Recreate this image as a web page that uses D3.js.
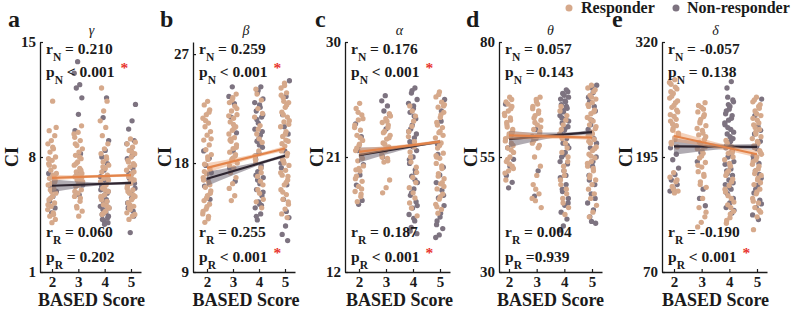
<!DOCTYPE html>
<html>
<head>
<meta charset="utf-8">
<script src="https://cdn.jsdelivr.net/npm/d3@7"></script>
<style>
  body { margin: 0; background: #fff; }
  text { font-family: "Liberation Serif", "Times New Roman", serif; }
</style>
</head>
<body>
<div id="chart"></div>
<script>
// ---- data ----
var scores = [2, 3, 4, 5]
var bandNames = ["γ", "β", "α", "θ", "δ"]
var panelLetters = ["a", "b", "c", "d", "e"]
var yDomains = [[1, 15], [9, 28], [12, 30], [30, 80], [70, 320]]
var yTicks = [[1, 8, 15], [9, 18, 27], [12, 21, 30], [30, 55, 80], [70, 195, 320]]

var rN = ["= 0.210", "= 0.259", "= 0.176", "= 0.057", "= -0.057"]
var pN = ["< 0.001", "< 0.001", "< 0.001", "= 0.143", "= 0.138"]
var rR = ["= 0.060", "= 0.255", "= 0.187", "= 0.004", "= -0.190"]
var pR = ["= 0.202", "< 0.001", "< 0.001", "=0.939", "< 0.001"]
var pNSig = [true, true, true, false, false]
var pRSig = [false, true, true, false, true]

// fitted line value at score 2 and score 5
var respFit = [[6.73, 6.9], [17.6, 19.2], [21.4, 22.2], [59.7, 59.2], [217.8, 198]]
var nonFit = [[6.25, 6.43], [16.7, 18.6], [21.15, 22.2], [58.9, 60.4], [206.5, 206]]
// confidence half-width at scores 2,3,4,5
var respCI = [[0.18, 0.1, 0.07, 0.1], [0.4, 0.25, 0.15, 0.2], [0.3, 0.18, 0.12, 0.15], [0.9, 0.6, 0.4, 0.5], [6, 4, 3, 3.5]]
var nonCI = [[0.4, 0.2, 0.08, 0.1], [0.6, 0.35, 0.15, 0.15], [0.6, 0.3, 0.12, 0.15], [1.8, 0.9, 0.4, 0.5], [9, 5, 2.5, 3]]

// CI values per BASED score (2,3,4,5), responders / non-responders
var gammaResp = [
  [11.4, 9.6, 9.3, 9.0, 8.8, 8.5, 8.3, 8.0, 7.8, 7.6, 7.4, 7.2, 7.0, 6.9, 6.7, 6.6, 6.4, 6.3, 6.1, 6.0, 5.8, 5.6, 5.4, 5.2, 5.0, 4.8, 4.6, 4.4, 4.2, 4.0, 7.9, 6.8, 5.5, 9.8, 8.6, 7.5, 6.5, 5.9, 5.1, 4.5],
  [9.9, 9.5, 9.2, 9.0, 8.7, 8.5, 8.3, 8.1, 7.9, 7.7, 7.5, 7.3, 7.1, 7.0, 6.9, 6.8, 6.7, 6.6, 6.5, 6.4, 6.2, 6.0, 5.8, 5.6, 5.3, 5.0, 4.7, 4.4, 8.8, 7.2, 6.6, 9.4, 8.0, 7.6, 6.75, 6.3, 5.9, 5.5, 4.9],
  [12.2, 11.4, 10.8, 10.2, 9.8, 9.3, 8.8, 8.5, 8.2, 7.9, 7.7, 7.5, 7.3, 7.1, 6.9, 6.7, 6.5, 6.3, 6.1, 5.9, 5.7, 5.5, 5.3, 5.1, 4.9, 4.7, 4.5, 6.8, 6.2, 5.6, 8.0, 7.4, 6.6, 6.0, 5.4, 5.0, 4.6],
  [9.1, 8.8, 8.6, 8.4, 8.2, 8.0, 7.8, 7.6, 7.4, 7.2, 7.0, 6.8, 6.6, 6.4, 6.2, 6.0, 5.8, 5.6, 5.4, 5.2, 5.0, 4.8, 4.6, 4.4, 4.2, 7.5, 6.9, 6.3, 5.7, 5.1, 8.9, 8.3, 7.7, 7.1, 6.5, 6.1, 5.5, 4.9, 4.5, 6.7, 5.9]
]
var gammaNon = [
  [7.0, 6.5, 6.2, 5.9, 5.6, 5.3, 4.9, 4.6],
  [13.8, 13.1, 12.4, 12.2, 11.6, 10.6, 9.6, 8.2, 7.0, 6.3, 5.7],
  [11.6, 10.4, 9.0, 8.4, 8.0, 7.6, 7.2, 6.8, 6.4, 6.1, 5.9, 5.7, 5.5, 5.3, 5.1, 4.9, 4.7, 4.5, 4.3, 4.1, 6.0, 5.4, 4.8, 4.4, 6.6, 6.2, 5.8, 5.2, 5.0, 4.6, 4.2, 4.0, 3.9],
  [11.2, 10.2, 9.7, 9.0, 8.4, 7.9, 7.3, 6.7, 6.1, 5.5, 4.9, 4.4, 3.4, 8.8, 8.1, 7.0, 6.4, 5.8, 5.2, 4.7]
]
var betaResp = [
  [23.1, 22.8, 22.4, 22.0, 21.7, 21.3, 21.0, 20.6, 20.3, 19.9, 19.5, 19.1, 18.7, 18.3, 17.9, 17.5, 17.1, 16.8, 16.4, 16.0, 15.7, 15.3, 14.9, 14.6, 14.2, 13.8, 13.4, 13.1, 15.5, 14.4, 16.6, 22.2, 21.5, 20.0, 18.5, 17.3, 16.2, 15.1, 14.0, 13.6],
  [23.7, 23.4, 23.0, 22.7, 22.3, 22.0, 21.7, 21.4, 21.0, 20.7, 20.4, 20.1, 19.8, 19.5, 19.2, 18.9, 18.6, 18.3, 18.0, 17.6, 17.2, 16.8, 16.3, 15.9, 15.3, 14.9, 22.5, 21.2, 19.9, 18.7, 23.2, 21.9, 20.9, 20.0, 19.3, 18.4, 17.8],
  [24.1, 23.2, 22.5, 21.8, 21.1, 20.4, 19.7, 19.0, 18.3, 17.6, 16.9, 16.2, 15.5, 14.8, 14.3, 20.8, 18.6, 16.5, 23.7, 22.1, 20.0, 18.0, 17.2, 15.8, 15.0],
  [24.6, 24.2, 23.8, 23.4, 23.0, 22.6, 22.2, 21.8, 21.4, 21.0, 20.6, 20.2, 19.8, 19.4, 19.0, 18.6, 18.2, 17.8, 17.4, 17.0, 16.6, 16.2, 15.8, 15.4, 15.0, 14.6, 14.2, 13.8, 13.5, 23.1, 21.5, 19.9, 18.3, 16.9, 24.4, 23.6, 22.8, 22.0, 21.2, 20.4, 19.6, 18.8, 18.0, 17.2, 16.4, 15.6, 14.8]
]
var betaNon = [
  [19.0, 18.4, 17.8, 17.2, 16.6, 16.1, 15.0],
  [24.3, 23.5, 22.9, 21.8, 20.5, 19.0, 17.6, 16.5],
  [24.3, 23.8, 23.3, 22.8, 22.3, 21.8, 21.3, 20.8, 20.3, 19.8, 19.3, 18.8, 18.3, 17.8, 17.3, 16.8, 16.3, 15.8, 15.3, 14.8, 14.3, 13.8, 13.3, 22.0, 19.5, 17.0, 14.5, 24.0, 23.0, 22.6, 21.6, 20.6, 20.0, 18.6, 17.6, 16.6, 15.6, 14.6, 13.6],
  [24.8, 23.5, 22.0, 20.4, 19.0, 17.6, 16.2, 15.0, 13.5, 12.8, 12.1, 11.6, 21.0, 18.0, 14.0]
]
var alphaResp = [
  [25.2, 24.8, 24.3, 23.9, 23.5, 23.1, 22.7, 22.3, 21.9, 21.5, 21.1, 20.7, 20.3, 19.9, 19.5, 19.1, 18.7, 18.3, 17.9, 17.5, 24.0, 22.0, 20.0, 18.5, 24.5, 23.3, 22.5, 21.7, 20.9, 20.1, 19.3, 18.1],
  [24.4, 24.0, 23.7, 23.3, 23.0, 22.7, 22.4, 22.1, 21.8, 21.5, 21.2, 20.9, 20.6, 19.2, 18.6, 18.2, 23.5, 22.0, 24.2, 23.8, 22.9, 22.5, 21.6, 21.0, 20.7],
  [25.0, 24.2, 23.4, 22.6, 21.8, 21.0, 20.2, 19.4, 18.6, 17.8, 17.0, 16.4, 23.8, 21.4, 19.0, 24.6, 23.0, 22.2, 20.6, 19.8, 18.2, 17.4],
  [26.1, 25.7, 25.3, 24.9, 24.5, 24.1, 23.7, 23.3, 22.9, 22.5, 22.1, 21.7, 21.3, 20.9, 20.5, 20.1, 19.7, 19.3, 18.9, 18.5, 18.1, 17.7, 17.3, 16.9, 16.6, 25.0, 23.0, 21.0, 19.0, 25.9, 25.1, 24.3, 23.5, 22.7, 21.9, 21.1, 20.3, 19.5, 18.7, 17.9, 17.1]
]
var alphaNon = [
  [23.6, 22.6, 21.5, 20.4, 19.6, 18.8, 17.6, 17.3],
  [25.8, 25.4, 25.0, 24.6, 24.3, 23.2, 21.0],
  [26.4, 26.0, 25.5, 25.0, 24.5, 24.0, 23.5, 23.0, 22.5, 22.0, 21.5, 21.0, 20.5, 20.0, 19.5, 19.0, 18.5, 18.0, 17.5, 17.0, 16.5, 16.0, 15.5, 15.0, 24.8, 22.2, 19.8, 26.2, 25.2, 24.2, 23.2, 22.8, 21.8, 20.8, 19.2, 18.2, 17.2, 16.2, 15.2],
  [25.5, 23.8, 22.0, 20.2, 19.6, 19.0, 18.4, 17.8, 17.2, 16.6, 16.0, 15.4, 14.9, 14.7, 24.6, 21.2, 18.0, 16.3, 15.7]
]
var thetaResp = [
  [68.0, 67.0, 66.0, 65.0, 64.0, 63.0, 62.0, 61.0, 60.0, 59.0, 58.0, 57.0, 56.0, 55.0, 54.0, 53.0, 52.0, 51.5, 65.5, 61.5, 57.5, 53.5, 50.0, 67.5, 66.5, 64.5, 63.5, 62.5, 60.5, 59.5, 58.5, 56.5, 54.5, 52.5],
  [68.0, 67.0, 66.0, 65.0, 64.0, 63.0, 62.0, 61.0, 60.0, 59.0, 58.0, 57.0, 55.0, 53.0, 51.0, 49.0, 47.0, 45.5, 44.0, 66.5, 63.5, 60.5, 67.5, 65.5, 64.5, 62.5, 61.5, 59.5, 58.5, 57.5, 48.0, 46.0],
  [66.0, 64.0, 62.0, 60.0, 58.0, 56.0, 54.0, 52.0, 50.0, 48.0, 46.0, 44.0, 42.5, 61.0, 57.0, 53.0, 65.0, 63.0, 59.0, 55.0, 51.0, 49.0, 47.0, 45.0],
  [70.6, 70.0, 69.2, 68.4, 67.6, 66.8, 66.0, 65.2, 64.4, 63.6, 62.8, 62.0, 61.2, 60.4, 59.6, 58.8, 58.0, 57.2, 56.4, 55.6, 54.8, 54.0, 53.0, 52.0, 51.0, 50.0, 49.0, 48.0, 47.0, 46.0, 44.5, 43.0, 42.0, 69.6, 68.0, 66.4, 64.8, 63.2, 61.6, 60.0, 58.4, 56.8, 55.2, 53.6, 52.5, 50.5]
]
var thetaNon = [
  [66.5, 59.8, 57.0, 54.5, 53.0, 51.0, 49.5, 48.3],
  [61.0, 59.5, 52.0, 46.5],
  [69.6, 68.8, 68.0, 67.2, 66.4, 65.6, 64.8, 64.0, 63.2, 62.4, 61.6, 60.8, 60.0, 59.0, 58.0, 57.0, 56.0, 55.0, 53.5, 52.0, 50.5, 49.0, 47.5, 46.0, 44.5, 43.0, 41.5, 40.0, 39.1, 67.0, 63.5, 69.2, 68.4, 67.6, 66.0, 65.2, 62.8, 61.2, 59.5, 57.5, 55.5, 54.0, 51.0, 48.0, 45.0],
  [70.6, 69.0, 67.0, 65.0, 63.0, 61.0, 59.0, 57.0, 55.0, 53.0, 51.0, 49.0, 47.0, 45.0, 43.5, 42.0, 40.6, 70.0, 68.0, 66.0, 62.0, 58.0, 54.0, 50.0, 46.0, 41.0]
]
var deltaResp = [
  [279, 274, 269, 264, 259, 254, 249, 244, 239, 234, 229, 224, 219, 214, 209, 206, 178, 173, 168, 163, 158, 156, 266, 246, 226, 276, 271, 261, 256, 251, 241, 236, 231, 221, 216, 211, 170, 160],
  [254, 249, 244, 239, 234, 229, 224, 219, 214, 209, 204, 199, 194, 189, 184, 179, 174, 168, 162, 150, 140, 130, 124, 119, 247, 232, 217, 202, 251, 241, 236, 226, 221, 211, 206, 196, 186, 176, 165, 135],
  [213, 206, 199, 192, 185, 178, 171, 164, 157, 150, 143, 136, 129, 123, 200, 180, 160, 140, 210, 195, 188, 175, 168, 153, 146, 133, 126],
  [260, 255, 250, 245, 240, 235, 230, 225, 220, 215, 210, 205, 200, 195, 190, 185, 180, 175, 170, 165, 160, 155, 150, 145, 140, 135, 130, 116, 248, 222, 198, 172, 257, 252, 242, 237, 232, 227, 217, 212, 207, 202, 192, 187, 182, 177, 167, 157, 147, 137]
]
var deltaNon = [
  [205, 198, 192, 183, 176, 170, 165, 160, 158],
  [200, 190, 160, 150, 142],
  [277, 260, 255, 250, 245, 240, 235, 230, 225, 220, 215, 210, 205, 200, 195, 190, 185, 180, 175, 170, 165, 160, 155, 150, 145, 140, 134, 252, 232, 212, 270, 257, 247, 242, 237, 227, 222, 217, 207, 202, 197, 187, 182, 177, 167, 162, 157, 147, 142, 137],
  [258, 228, 220, 212, 204, 196, 188, 180, 172, 164, 156, 148, 140, 132, 127, 240, 224, 208, 192, 176, 160, 144]
]
var respData = [gammaResp, betaResp, alphaResp, thetaResp, deltaResp]
var nonData = [gammaNon, betaNon, alphaNon, thetaNon, deltaNon]

// ---- layout ----
var W = 796, H = 311
var axisX = [40, 193, 345, 499, 662]
var x2px = [52, 207, 359, 509, 674]
var x5px = [131, 285, 440, 592, 757]
var letterX = [8, 160, 315, 466, 612]
var plotTop = 42, plotBottom = 272

var respColor = "#D6A98B", nonColor = "#7D7380"
var respLine = "#E3844A", nonLine = "#2E2530"
var ink = "#1a1a1a"

var svg = d3.select("#chart").append("svg")
    .attr("width", W)
    .attr("height", H)

// legend
var legend = svg.append("g")
legend.append("circle").attr("cx", 569).attr("cy", 8).attr("r", 3.5).attr("fill", respColor)
legend.append("text").attr("x", 581).attr("y", 13).text("Responder")
    .style("font-weight", "bold").style("font-size", "16px").attr("fill", ink)
legend.append("circle").attr("cx", 676).attr("cy", 8).attr("r", 3.5).attr("fill", nonColor)
legend.append("text").attr("x", 687).attr("y", 13).text("Non-responder")
    .style("font-weight", "bold").style("font-size", "16px").attr("fill", ink)

var jitterW = 0.34

for (let p = 0; p < 5; p++) {
    var g = svg.append("g")

    var x = d3.scaleLinear().domain([2, 5]).range([x2px[p], x5px[p]])
    var y = d3.scaleLinear().domain(yDomains[p]).range([plotBottom, plotTop])

    // dots: non-responders first, responders on top
    scores.forEach(function (s, si) {
        [[nonData[p][si], nonColor, 0.13], [respData[p][si], respColor, 0.57]].forEach(function (grp) {
            g.append("g").selectAll("circle")
                .data(grp[0])
                .enter().append("circle")
                .attr("cx", function (d, i) { return x(s + (((i * 0.618034 + grp[2] + 0.29 * si) % 1) - 0.5) * jitterW) })
                .attr("cy", function (d) { return y(d) })
                .attr("r", 2.65)
                .attr("fill", grp[1])
        })
    })

    // regression lines with confidence bands
    ;[[nonFit[p], nonCI[p], "#6F6672", nonLine, 0.55], [respFit[p], respCI[p], "#EBA577", respLine, 0.5]].forEach(function (f) {
        var fit = d3.scaleLinear().domain([2, 5]).range(f[0])
        var pts = scores.map(function (s, i) { return { s: s, v: fit(s), h: f[1][i] } })
        var area = d3.area()
            .x(function (d) { return x(d.s) })
            .y0(function (d) { return y(d.v - d.h) })
            .y1(function (d) { return y(d.v + d.h) })
            .curve(d3.curveMonotoneX)
        g.append("path").datum(pts).attr("d", area)
            .attr("fill", f[2]).attr("opacity", f[4])
        g.append("line")
            .attr("x1", x(2)).attr("x2", x(5))
            .attr("y1", y(f[0][0])).attr("y2", y(f[0][1]))
            .attr("stroke", f[3]).attr("stroke-width", 2.2)
    })

    // axes
    var xEnd = x5px[p] + 10
    var xAxisScale = d3.scaleLinear().domain([x.invert(axisX[p]), x.invert(xEnd)]).range([axisX[p], xEnd])
    var xAxis = g.append("g")
        .attr("transform", "translate(0," + plotBottom + ")")
        .call(d3.axisBottom(xAxisScale).tickValues(scores).tickFormat(d3.format("d"))
            .tickSizeInner(-3).tickSizeOuter(0).tickPadding(4))
    var yAxis = g.append("g")
        .attr("transform", "translate(" + axisX[p] + ",0)")
        .call(d3.axisLeft(y).tickValues(yTicks[p]).tickFormat(d3.format("d"))
            .tickSizeInner(-3).tickSizeOuter(0).tickPadding(4))
    ;[xAxis, yAxis].forEach(function (a) {
        a.select(".domain").attr("stroke", ink).attr("stroke-width", 1.3)
        a.selectAll(".tick line").attr("stroke", ink).attr("stroke-width", 1.2)
        a.selectAll("text").style("font-family", "Liberation Serif, serif")
            .style("font-weight", "bold").style("font-size", "15px").attr("fill", ink)
    })

    // labels
    var mid = (x2px[p] + x5px[p]) / 2
    g.append("text").attr("x", mid).attr("y", 306).attr("text-anchor", "middle")
        .text("BASED Score").style("font-weight", "bold").style("font-size", "18px").attr("fill", ink)
    var digits = String(yTicks[p][2]).length
    g.append("text")
        .attr("transform", "translate(" + (axisX[p] - 6 - 8 * digits) + "," + ((plotTop + plotBottom) / 2) + ") rotate(-90)")
        .attr("text-anchor", "middle")
        .text("CI").style("font-weight", "bold").style("font-size", "18px").attr("fill", ink)
    g.append("text").attr("x", mid).attr("y", 35).attr("text-anchor", "middle")
        .text(bandNames[p]).style("font-style", "italic").style("font-size", "14px").attr("fill", ink)
    g.append("text").attr("x", letterX[p]).attr("y", 27)
        .text(panelLetters[p]).style("font-weight", "bold").style("font-size", "24px").attr("fill", ink)

    // stats annotations
    var stats = [["r", "N", rN[p], 54, false], ["p", "N", pN[p], 77, pNSig[p]],
                 ["r", "R", rR[p], 237, false], ["p", "R", pR[p], 262, pRSig[p]]]
    stats.forEach(function (st) {
        var t = g.append("text").attr("x", axisX[p] + 6).attr("y", st[3])
            .style("font-weight", "bold").style("font-size", "15.5px").attr("fill", ink)
        t.append("tspan").text(st[0])
        t.append("tspan").text(st[1]).attr("dy", 7).style("font-size", "11.5px")
        t.append("tspan").text(" " + st[2]).attr("dy", -7)
        if (st[4]) {
            t.append("tspan").text("*").attr("dx", 6).attr("dy", -4).attr("fill", "#E8332E")
        }
    })
}
</script>
</body>
</html>
